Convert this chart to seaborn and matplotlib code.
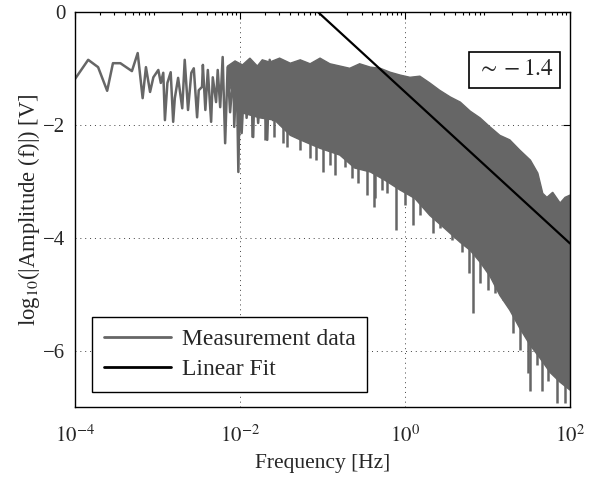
import numpy as np
import pandas as pd
import matplotlib
matplotlib.use("Agg")
import matplotlib.pyplot as plt
import seaborn as sns
from matplotlib.ticker import FixedLocator, LogLocator, NullFormatter

# ---------------- data ----------------
# sparse low-frequency part of the measurement (log10 f [Hz], log10 amplitude)
line_logf = [-4.00, -3.84, -3.72, -3.61, -3.54, -3.45, -3.31, -3.24, -3.18, -3.14,
             -3.09, -3.05, -2.99, -2.96, -2.93, -2.91, -2.88, -2.84, -2.81, -2.79,
             -2.75, -2.70, -2.67, -2.63, -2.59, -2.56, -2.52, -2.50, -2.46, -2.45,
             -2.42, -2.39, -2.35, -2.33, -2.29, -2.27, -2.24, -2.21, -2.18, -2.15,
             -2.12, -2.08, -2.07, -2.04, -2.02, -2.00, -1.98, -1.94, -1.92, -1.88,
             -1.84, -1.82, -1.78, -1.73, -1.67, -1.64, -1.60, -1.55]
line_amp = [-1.18, -0.84, -0.97, -1.39, -0.90, -0.90, -1.04, -0.72, -1.52, -0.97,
            -1.41, -1.15, -1.02, -1.25, -1.07, -1.91, -1.25, -1.06, -1.94, -1.52,
            -1.16, -1.70, -0.84, -1.73, -1.07, -0.99, -1.86, -1.38, -1.32, -0.93,
            -1.73, -1.02, -1.94, -1.15, -1.59, -1.02, -1.68, -0.79, -2.32, -0.97,
            -1.77, -1.02, -2.03, -0.97, -2.83, -1.07, -2.14, -0.99, -1.87, -0.90,
            -2.21, -1.02, -1.96, -0.90, -2.26, -0.84, -1.91, -0.90]

# dense part: upper envelope of the measurement
upper_logf = [-2.15, -2.06, -1.97, -1.88, -1.79, -1.73, -1.64, -1.52, -1.39, -1.27,
              -1.15, -1.03, -0.91, -0.79, -0.67, -0.55, -0.42, -0.30, -0.18, -0.06,
              0.06, 0.18, 0.30, 0.42, 0.55, 0.67, 0.79, 0.91, 1.03, 1.15,
              1.27, 1.39, 1.52, 1.61, 1.67, 1.72, 1.79, 1.88, 1.94, 2.00]
upper_amp = [-0.95, -0.86, -0.93, -0.81, -0.95, -0.84, -0.88, -0.81, -0.90, -0.84,
             -0.91, -0.81, -0.91, -0.95, -0.99, -0.91, -0.97, -0.99, -1.06, -1.11,
             -1.15, -1.13, -1.25, -1.38, -1.50, -1.59, -1.75, -1.87, -2.03, -2.18,
             -2.26, -2.44, -2.62, -2.85, -3.21, -3.28, -3.19, -3.38, -3.28, -3.24]

# dense part: lower envelope of the measurement
lower_logf = [-2.15, -2.00, -1.76, -1.58, -1.39, -1.27, -1.03, -0.79, -0.61,
              -0.42, -0.24, -0.06, 0.12, 0.30, 0.48, 0.67, 0.79, 0.91, 1.03,
              1.15, 1.27, 1.39, 1.52, 1.64, 1.76, 1.88, 2.00]
lower_amp = [-1.20, -1.77, -1.87, -1.91, -2.18, -2.26, -2.41, -2.53, -2.76,
             -2.83, -2.98, -3.15, -3.30, -3.60, -3.83, -4.08, -4.22, -4.43, -4.68,
             -5.02, -5.28, -5.60, -5.91, -6.14, -6.39, -6.56, -6.70]

# downward spikes below the dense band
spike_logf = [-1.85, -1.70, -1.59, -1.48, -1.43, -1.27, -1.15, -1.08, -0.99, -0.91,
              -0.85, -0.73, -0.64, -0.57, -0.46, -0.38, -0.36, -0.28, -0.22, -0.11,
              0.00, 0.10, 0.18, 0.34, 0.42, 0.57, 0.69, 0.78, 0.82, 0.91,
              1.01, 1.09, 1.19, 1.31, 1.39, 1.49, 1.52, 1.60, 1.66, 1.73,
              1.84, 1.94, 2.00]
spike_amp = [-2.21, -2.26, -2.21, -2.32, -2.39, -2.44, -2.58, -2.62, -2.83, -2.71,
             -2.89, -2.74, -2.94, -3.03, -3.24, -3.45, -3.29, -3.15, -3.21, -3.86,
             -3.42, -3.77, -3.60, -3.92, -3.83, -4.04, -4.25, -4.63, -5.34, -4.80,
             -4.93, -4.98, -5.11, -5.69, -5.99, -6.40, -6.71, -6.26, -6.71, -6.53,
             -6.92, -6.92, -6.53]

# linear fit in log-log: log10 A = intercept + slope * log10 f
fit_slope = -1.344
fit_intercept = -1.41
fit_logf = [-4.0, 2.0]

x_ticks = [1e-4, 1e-2, 1e0, 1e2]
x_ticklabels = [r"$10^{-4}$", r"$10^{-2}$", r"$10^{0}$", r"$10^{2}$"]
y_ticks = [-6, -4, -2, 0]
slope_label = r"$\sim -1.4$"

# ---------------- styling ----------------
sns.set_theme(style="white")
plt.rcParams["font.family"] = ["Liberation Serif", "DejaVu Serif"]
plt.rcParams["mathtext.fontset"] = "stix"
plt.rcParams["axes.linewidth"] = 1.0

GRAY = "#666666"

fig = plt.figure(figsize=(5.98, 4.78), dpi=100)
ax = fig.add_axes([0.1254, 0.1485, 0.8278, 0.8254])

meas = pd.DataFrame({"f": 10.0 ** np.array(line_logf), "a": line_amp})
sns.lineplot(data=meas, x="f", y="a", ax=ax, color=GRAY, lw=1.8,
             sort=False, label="Measurement data", zorder=3)

# dense band
uf = 10.0 ** np.array(upper_logf)
lf = 10.0 ** np.array(lower_logf)
ax.fill(np.concatenate([uf, lf[::-1]]),
        np.concatenate([upper_amp, lower_amp[::-1]]),
        color=GRAY, lw=1.0, ec=GRAY, zorder=3)

# spikes
sp_top = np.interp(spike_logf, lower_logf, lower_amp) + 0.15
ax.vlines(10.0 ** np.array(spike_logf), spike_amp, sp_top, color=GRAY, lw=1.8, zorder=3)

fit = pd.DataFrame({"f": 10.0 ** np.array(fit_logf),
                    "a": fit_intercept + fit_slope * np.array(fit_logf)})
sns.lineplot(data=fit, x="f", y="a", ax=ax, color="black", lw=1.6,
             label="Linear Fit", zorder=4)

ax.set_xscale("log")
ax.set_xlim(1e-4, 1e2)
ax.set_ylim(-7, 0)
ax.xaxis.set_major_locator(FixedLocator(x_ticks))
ax.set_xticklabels(x_ticklabels)
ax.xaxis.set_minor_locator(LogLocator(base=10, subs=np.arange(2, 10)))
ax.xaxis.set_minor_formatter(NullFormatter())
ax.set_yticks(y_ticks)
ax.set_yticklabels([f"{v:d}" if v == 0 else f"\u2212{abs(v):d}" for v in y_ticks])

ax.tick_params(which="both", direction="in", top=True, right=True,
               labelsize=15, color="black", width=0.8)
ax.tick_params(which="major", length=5)
ax.tick_params(axis="x", which="major", pad=13)
ax.tick_params(axis="y", which="major", pad=7)
ax.tick_params(which="minor", length=2.5)
ax.grid(True, which="major", ls=(0, (1, 4)), color="0.25", lw=0.7)
for s in ax.spines.values():
    s.set_color("black")
    s.set_zorder(5)

ax.set_xlabel("Frequency [Hz]", fontsize=15.5, labelpad=5)
ax.set_ylabel(r"log$_{10}$(|Amplitude (f)|) [V]", fontsize=16.3, labelpad=1)

ax.text(21.5, -1.02, slope_label, fontsize=17, ha="center", va="center", zorder=6,
        bbox=dict(boxstyle="square,pad=0.3", fc="white", ec="black", lw=1.2))

leg = ax.legend(loc="lower left", bbox_to_anchor=(0.034, 0.038), fontsize=17,
                frameon=True, fancybox=False, edgecolor="black", framealpha=1,
                handlelength=2.85, handletextpad=0.45, borderpad=0.5,
                labelspacing=0.35, borderaxespad=0)
leg.get_frame().set_linewidth(1.0)
for h in leg.get_lines():
    h.set_linewidth(2.0)

fig.savefig("out.png", dpi=100)
